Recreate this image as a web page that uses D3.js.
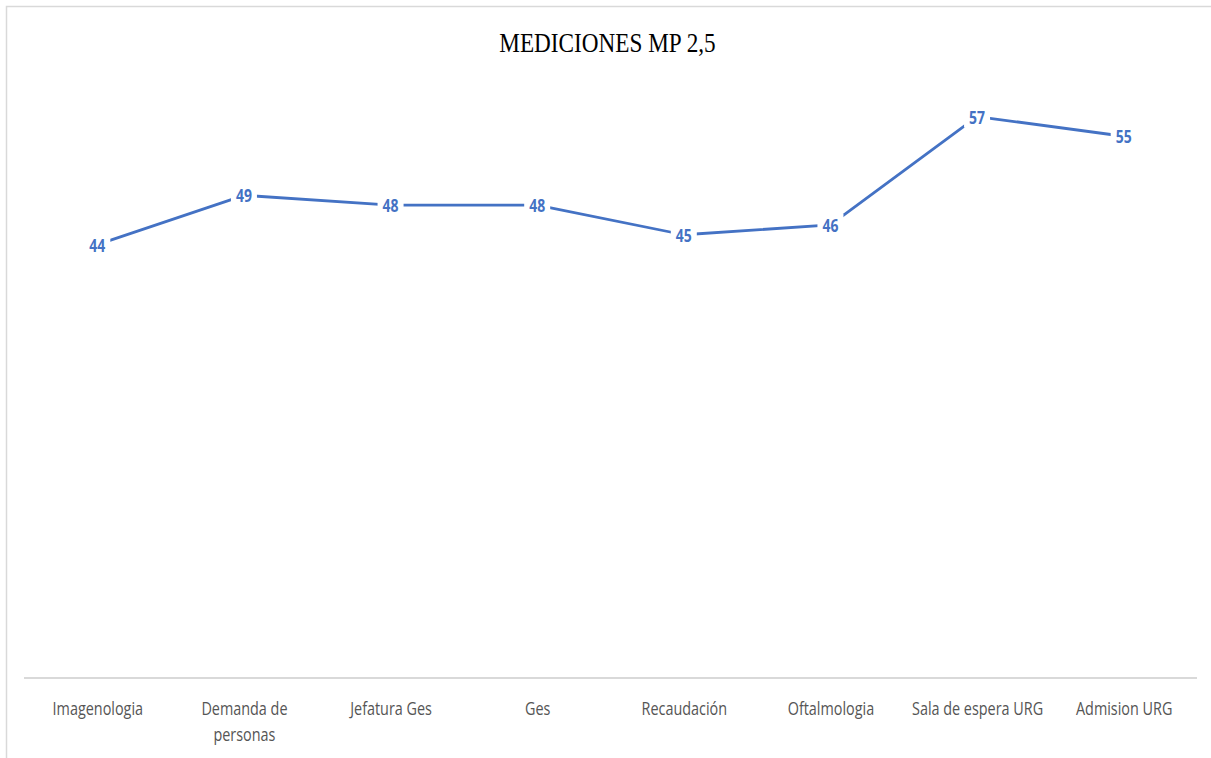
<!DOCTYPE html>
<html>
<head>
<meta charset="utf-8">
<script src="https://cdn.jsdelivr.net/npm/d3@7"></script>
<style>
  body { margin: 0; background: #fff; }
</style>
</head>
<body>
<div id="chart"></div>
<script>
// datos
const categories = ["Imagenologia", "Demanda de personas", "Jefatura Ges", "Ges",
  "Recaudación", "Oftalmologia", "Sala de espera URG", "Admision URG"];
const values = [44, 49, 48, 48, 45, 46, 57, 55];
const wrapped = { "Demanda de personas": ["Demanda de", "personas"] };
const yDomain = [0, 60];
const title = "MEDICIONES MP 2,5";

const W = 1211, H = 758;
const margin = { top: 87, right: 14, bottom: 80, left: 24 };

const svg = d3.select("#chart").append("svg")
  .attr("width", W).attr("height", H);

// marco
svg.append("rect")
  .attr("x", 6.5).attr("y", 6.5)
  .attr("width", W + 20).attr("height", H + 20)
  .attr("fill", "#fff")
  .attr("stroke", "#d9d9d9")
  .attr("stroke-width", 1.5);

const x = d3.scalePoint()
  .domain(categories)
  .range([margin.left, W - margin.right])
  .padding(0.5);

const y = d3.scaleLinear()
  .domain(yDomain)
  .range([H - margin.bottom, margin.top]);

// titulo
svg.append("text")
  .attr("transform", `translate(${W / 2 + 2},52) scale(0.86,1)`)
  .attr("text-anchor", "middle")
  .attr("font-family", "Liberation Serif, Times New Roman, serif")
  .attr("font-size", 27)
  .attr("fill", "#000")
  .text(title);

// eje x
const xAxis = svg.append("g")
  .attr("transform", `translate(0,${y(0)})`)
  .call(d3.axisBottom(x).tickSize(0).tickPadding(0));

xAxis.select(".domain")
  .attr("d", `M${margin.left},0H${W - margin.right}`)
  .attr("stroke", "#d9d9d9")
  .attr("stroke-width", 2);

xAxis.selectAll(".tick text").each(function (d) {
  const t = d3.select(this);
  const lines = wrapped[d] || [d];
  t.text(null)
    .attr("y", 0)
    .attr("dy", null)
    .attr("transform", "translate(0,37) scale(0.8,1)")
    .attr("font-family", "Open Sans, sans-serif")
    .attr("font-size", 18)
    .attr("fill", "#555");
  lines.forEach((s, i) => {
    t.append("tspan").attr("x", 0).attr("dy", i === 0 ? 0 : 26).text(s);
  });
});

// linea
const line = d3.line()
  .x((d, i) => x(categories[i]))
  .y(d => y(d));

svg.append("path")
  .datum(values)
  .attr("fill", "none")
  .attr("stroke", "#4472c4")
  .attr("stroke-width", 2.8)
  .attr("stroke-linejoin", "round")
  .attr("d", line);

// etiquetas de datos
const lbl = svg.selectAll(".lbl")
  .data(values)
  .enter().append("g")
  .attr("class", "lbl")
  .attr("transform", (d, i) => `translate(${x(categories[i])},${y(d)})`);

lbl.append("rect")
  .attr("x", -13).attr("y", -11)
  .attr("width", 26).attr("height", 22)
  .attr("fill", "#fff");

lbl.append("text")
  .attr("transform", "translate(0,7) scale(0.82,1)")
  .attr("text-anchor", "middle")
  .attr("font-family", "Open Sans, sans-serif")
  .attr("font-weight", "bold")
  .attr("font-size", 17)
  .attr("fill", "#4472c4")
  .text(d => d);
</script>
</body>
</html>
